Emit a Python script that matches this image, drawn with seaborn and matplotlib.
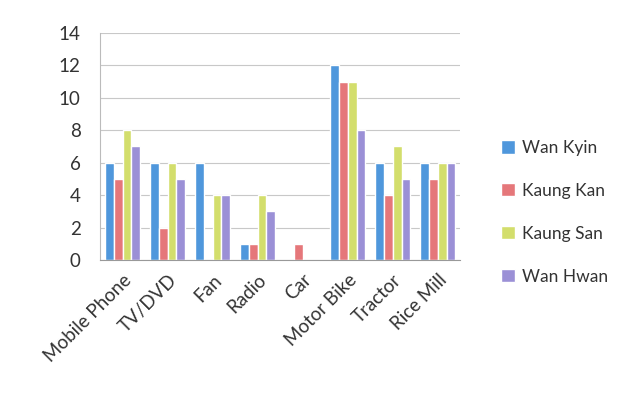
import matplotlib
matplotlib.use("Agg")
import matplotlib.pyplot as plt
import seaborn as sns
import pandas as pd

categories = ["Mobile Phone", "TV/DVD", "Fan", "Radio", "Car", "Motor Bike", "Tractor", "Rice Mill"]
wan_kyin = [6, 6, 6, 1, 0, 12, 6, 6]
kaung_kan = [5, 2, 0, 1, 1, 11, 4, 5]
kaung_san = [8, 6, 4, 4, 0, 11, 7, 6]
wan_hwan = [7, 5, 4, 3, 0, 8, 5, 6]
series_names = ["Wan Kyin", "Kaung Kan", "Kaung San", "Wan Hwan"]
series_values = [wan_kyin, kaung_kan, kaung_san, wan_hwan]
colors = ["#4f97dc", "#e5777a", "#d3de6c", "#9b90d6"]

rows = []
for name, vals in zip(series_names, series_values):
    for c, v in zip(categories, vals):
        rows.append({"Category": c, "Series": name, "Value": v})
df = pd.DataFrame(rows)

sns.set_style("white")
plt.rcParams['font.family'] = ['Lato', 'DejaVu Sans']

fig = plt.figure(figsize=(6.34, 4.03), dpi=100)
ax = fig.add_axes([0.158, 0.355, 0.568, 0.563])
sns.barplot(data=df, x="Category", y="Value", hue="Series", order=categories,
            hue_order=series_names, palette=colors, width=0.78, saturation=1,
            ax=ax, legend=True)

ax.set_ylim(0, 14)
ax.set_yticks(range(0, 15, 2))
ax.set_xlim(-0.5, len(categories) - 0.5)
ax.yaxis.grid(True, color="#c8c8c8", linewidth=0.8)
ax.set_axisbelow(True)
ax.set_xlabel("")
ax.set_ylabel("")
for s in ["top", "right"]:
    ax.spines[s].set_visible(False)
ax.spines["left"].set_color("#bbbbbb")
ax.spines["bottom"].set_color("#999999")
ax.tick_params(axis="y", labelsize=13.5, colors="#333333", length=0, pad=14)
ax.tick_params(axis="x", labelsize=13.5, colors="#333333", length=0, pad=8)
plt.setp(ax.get_xticklabels(), rotation=45, ha="right", rotation_mode="anchor")
ax.set_xticks([i + 0.5 for i in range(-1, len(categories))], minor=True)
ax.tick_params(axis="x", which="minor", length=4, color="#999999", direction="out")

leg = ax.legend(loc="center left", bbox_to_anchor=(1.07, 0.21), frameon=False,
                fontsize=12.5, handlelength=0.8, handleheight=0.8, handletextpad=0.4,
                labelspacing=1.55, labelcolor="#333333")

fig.savefig("out.png", dpi=100, facecolor="white")
